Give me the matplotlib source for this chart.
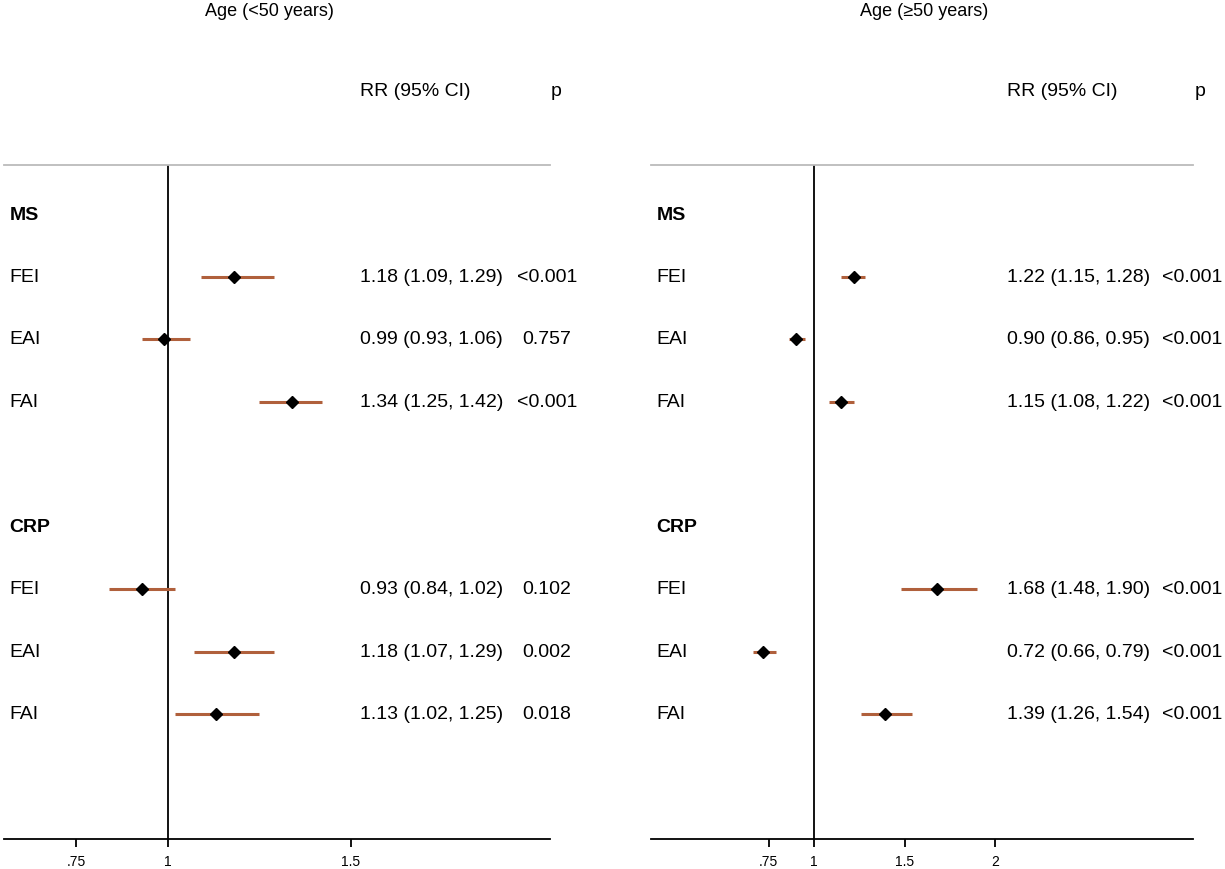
import numpy as np
import matplotlib
matplotlib.use('Agg')
from matplotlib import pyplot as plt

plt.rcParams['font.family'] = ['Liberation Sans', 'DejaVu Sans']

# rows: group headers and indices
groups = ['MS', 'CRP']
indices = ['FEI', 'EAI', 'FAI']

# age < 50
young_rr = [1.18, 0.99, 1.34, 0.93, 1.18, 1.13]
young_lo = [1.09, 0.93, 1.25, 0.84, 1.07, 1.02]
young_hi = [1.29, 1.06, 1.42, 1.02, 1.29, 1.25]
young_p = ['<0.001', '0.757', '<0.001', '0.102', '0.002', '0.018']

# age >= 50
old_rr = [1.22, 0.90, 1.15, 1.68, 0.72, 1.39]
old_lo = [1.15, 0.86, 1.08, 1.48, 0.66, 1.26]
old_hi = [1.28, 0.95, 1.22, 1.90, 0.79, 1.54]
old_p = ['<0.001', '<0.001', '<0.001', '<0.001', '<0.001', '<0.001']

young_ticks = [0.75, 1, 1.5]
young_ticklabels = ['.75', '1', '1.5']
old_ticks = [0.75, 1, 1.5, 2]
old_ticklabels = ['.75', '1', '1.5', '2']

ci_color = '#b0603c'
row_pos = [1, 2, 3, 6, 7, 8]
group_pos = [0, 5]


def forest(ax, rr, lo, hi, p, ticks, ticklabels, xlim, x_rr, x_p, x_phead):
    ax.set_xlim(*xlim)
    ax.set_ylim(10, -0.784)
    rr = np.array(rr)
    lo = np.array(lo)
    hi = np.array(hi)
    ax.hlines(row_pos, lo, hi, color=ci_color, lw=2.2, zorder=2)
    ax.plot(rr, row_pos, 'D', color='black', ms=6.5, zorder=3)
    ax.axvline(1, color='black', lw=1.3, zorder=1)

    for spine in ['left', 'right']:
        ax.spines[spine].set_visible(False)
    ax.spines['top'].set_color('#bbbbbb')
    ax.spines['top'].set_linewidth(1.3)
    ax.spines['bottom'].set_linewidth(1.3)
    ax.set_yticks([])
    ax.set_xticks(ticks)
    ax.set_xticklabels(ticklabels, fontsize=10,
                       family=['Liberation Sans Narrow', 'Liberation Sans'])
    ax.tick_params(axis='x', length=6, width=1.3, pad=5)

    tr = ax.get_yaxis_transform()
    for g, y in zip(groups, group_pos):
        ax.text(0.010, y, g, transform=tr, fontsize=14, fontweight='bold', va='center')
    for i, y in enumerate(row_pos):
        ax.text(0.010, y, indices[i % 3], transform=tr, fontsize=14, va='center')
        ax.text(x_rr, y, f'{rr[i]:.2f} ({lo[i]:.2f}, {hi[i]:.2f})',
                fontsize=14, va='center', clip_on=False)
        ax.text(x_p, y, p[i], fontsize=14, va='center', ha='center', clip_on=False)

    ax.text(x_rr, -1.98, 'RR (95% CI)', fontsize=14, va='center', clip_on=False)
    ax.text(x_phead, -1.98, 'p', fontsize=14, va='center', ha='center', clip_on=False)


fig = plt.figure(figsize=(12.25, 8.7), dpi=100)
ax1 = fig.add_axes([4 / 1225, 1 - 840 / 870, 546 / 1225, 674 / 870])
ax2 = fig.add_axes([651 / 1225, 1 - 840 / 870, 542 / 1225, 674 / 870])

forest(ax1, young_rr, young_lo, young_hi, young_p,
       young_ticks, young_ticklabels, (0.552, 2.044), 1.525, 2.035, 2.06)
forest(ax2, old_rr, old_lo, old_hi, old_p,
       old_ticks, old_ticklabels, (0.099, 3.093), 2.066, 3.09, 3.13)

fig.text(269 / 1225, 1 - 12 / 870, 'Age (<50 years)', fontsize=13, ha='center', va='center')
fig.text(924 / 1225, 1 - 12 / 870, 'Age (≥50 years)', fontsize=13, ha='center', va='center')

plt.savefig('out.png', dpi=100)
